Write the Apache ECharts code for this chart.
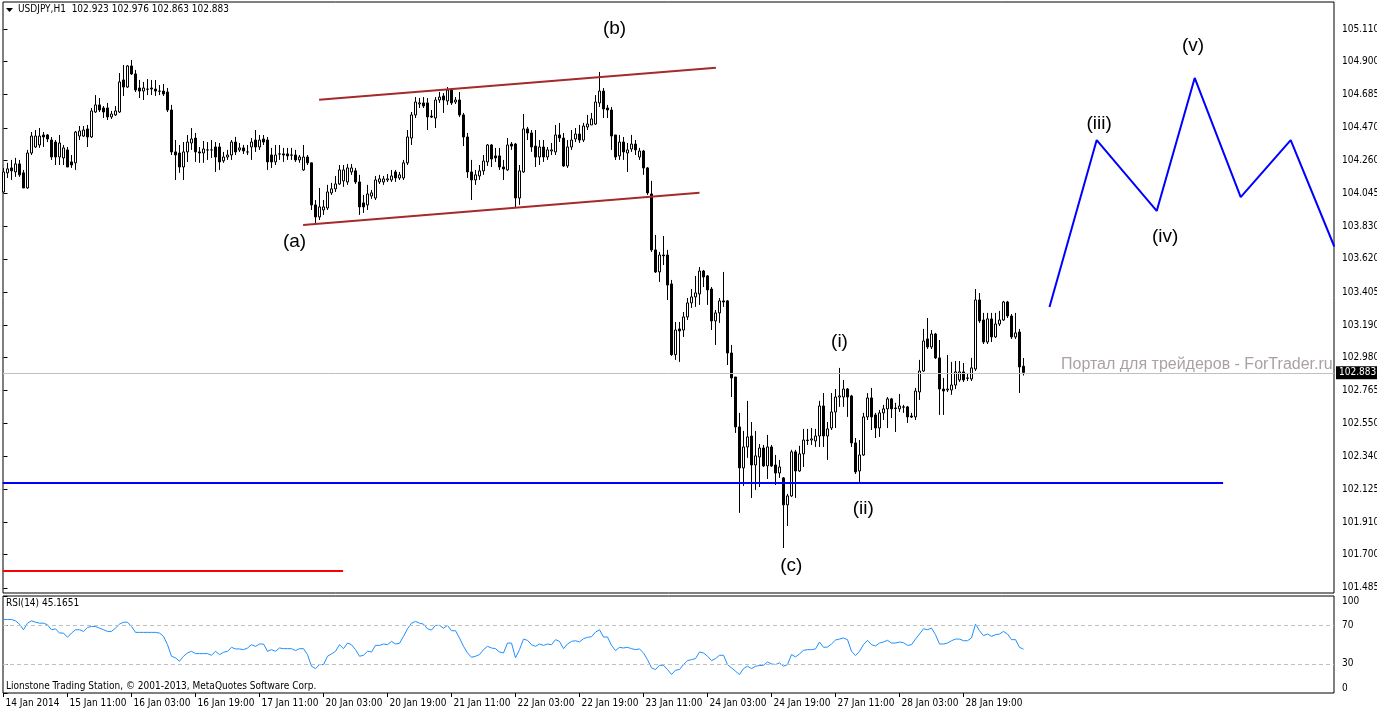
<!DOCTYPE html>
<html>
<head>
<meta charset="utf-8">
<script src="https://cdn.jsdelivr.net/npm/echarts@6/dist/echarts.min.js"></script>
<style>
  html, body { margin: 0; padding: 0; background: #fff; }
  #chart { width: 1377px; height: 712px; }
</style>
</head>
<body>
<div id="chart"></div>
<script>
// USDJPY H1, bar 0 = 14 Jan 2014 19:00
var opens = [
  104.054,104.178,104.210,104.184,104.236,104.178,104.080,104.307,104.346,104.359,
  104.424,104.424,104.391,104.378,104.281,104.275,104.327,104.249,104.243,104.417,
  104.417,104.463,104.411,104.573,104.619,104.599,104.599,104.541,104.554,104.573,
  104.781,104.735,104.872,104.820,104.729,104.709,104.722,104.729,104.722,104.709,
  104.709,104.703,104.586,104.314,104.307,104.216,104.314,104.372,104.404,104.314,
  104.307,104.327,104.327,104.346,104.346,104.256,104.281,104.294,104.378,104.327,
  104.340,104.314,104.346,104.391,104.346,104.398,104.391,104.294,104.249,104.301,
  104.301,104.301,104.294,104.294,104.262,104.197,104.281,104.243,103.970,103.892,
  103.937,103.950,104.048,104.074,104.106,104.126,104.119,104.184,104.191,104.119,
  103.983,103.970,104.028,104.015,104.119,104.119,104.132,104.132,104.184,104.145,
  104.145,104.243,104.404,104.554,104.625,104.632,104.632,104.547,104.534,104.651,
  104.677,104.645,104.716,104.638,104.651,104.554,104.411,104.184,104.132,104.158,
  104.191,104.249,104.359,104.288,104.288,104.216,104.197,104.365,104.365,104.015,
  104.184,104.463,104.437,104.352,104.281,104.346,104.281,104.320,104.314,104.424,
  104.404,104.223,104.346,104.398,104.430,104.391,104.476,104.489,104.495,104.632,
  104.709,104.599,104.586,104.424,104.288,104.378,104.307,104.333,104.365,104.281,
  104.320,104.210,104.041,103.678,103.535,103.645,103.645,103.457,102.998,103.165,
  103.158,103.243,103.334,103.373,103.392,103.541,103.509,103.424,103.217,103.269,
  103.347,103.347,103.009,102.853,102.529,102.263,102.399,102.470,102.282,102.334,
  102.392,102.276,102.399,102.282,102.230,102.198,102.023,102.081,102.367,102.243,
  102.354,102.444,102.444,102.438,102.470,102.665,102.470,102.522,102.626,102.723,
  102.723,102.775,102.730,102.425,102.243,102.347,102.594,102.717,102.607,102.522,
  102.620,102.646,102.711,102.652,102.646,102.659,102.659,102.600,102.594,102.756,
  102.892,103.100,103.048,103.132,102.977,102.775,102.769,102.769,102.801,102.834,
  102.886,102.847,102.840,102.905,103.353,103.223,103.080,103.230,103.113,103.197,
  103.223,103.340,103.249,103.113,103.145,102.923
];
var highs = [
  104.210,104.243,104.262,104.275,104.262,104.197,104.327,104.443,104.456,104.469,
  104.443,104.430,104.411,104.391,104.424,104.359,104.346,104.294,104.450,104.482,
  104.482,104.489,104.599,104.683,104.664,104.612,104.632,104.580,104.612,104.826,
  104.878,104.878,104.911,104.846,104.781,104.768,104.787,104.781,104.781,104.748,
  104.755,104.729,104.619,104.391,104.359,104.378,104.424,104.469,104.437,104.346,
  104.385,104.378,104.391,104.378,104.372,104.314,104.327,104.391,104.411,104.372,
  104.359,104.359,104.404,104.456,104.424,104.424,104.411,104.340,104.359,104.359,
  104.340,104.340,104.340,104.327,104.294,104.359,104.294,104.243,104.002,104.080,
  104.002,104.100,104.113,104.158,104.229,104.229,104.236,104.236,104.210,104.165,
  104.035,104.100,104.067,104.158,104.165,104.158,104.171,104.197,104.197,104.184,
  104.262,104.456,104.573,104.670,104.664,104.670,104.664,104.586,104.670,104.703,
  104.696,104.735,104.729,104.670,104.703,104.567,104.437,104.262,104.197,104.229,
  104.294,104.365,104.365,104.340,104.340,104.262,104.404,104.378,104.372,104.229,
  104.560,104.476,104.456,104.456,104.391,104.391,104.346,104.372,104.489,104.502,
  104.437,104.391,104.456,104.469,104.489,104.502,104.554,104.567,104.683,104.833,
  104.729,104.619,104.606,104.424,104.424,104.411,104.372,104.424,104.391,104.340,
  104.327,104.216,104.126,103.775,103.665,103.768,103.678,103.483,103.210,103.210,
  103.275,103.366,103.424,103.509,103.567,103.548,103.515,103.437,103.288,103.366,
  103.535,103.353,103.061,102.853,102.620,102.503,102.698,102.561,102.503,102.418,
  102.412,102.477,102.412,102.347,102.315,102.204,102.094,102.380,102.380,102.406,
  102.516,102.516,102.522,102.516,102.698,102.749,102.561,102.749,102.775,102.912,
  102.834,102.781,102.737,102.457,102.444,102.620,102.749,102.782,102.620,102.639,
  102.672,102.723,102.717,102.685,102.743,102.672,102.665,102.620,102.782,102.964,
  103.165,103.236,103.158,103.139,103.093,102.847,102.996,102.951,102.957,102.957,
  102.944,102.879,102.977,103.424,103.398,103.269,103.269,103.269,103.269,103.282,
  103.347,103.347,103.262,103.269,103.165,102.976
];
var lows = [
  104.048,104.145,104.132,104.152,104.152,104.080,104.074,104.294,104.340,104.340,
  104.346,104.378,104.262,104.229,104.229,104.229,104.216,104.210,104.197,104.391,
  104.411,104.346,104.404,104.567,104.573,104.534,104.521,104.528,104.547,104.567,
  104.677,104.729,104.813,104.703,104.664,104.651,104.683,104.683,104.677,104.683,
  104.677,104.573,104.294,104.132,104.178,104.132,104.249,104.327,104.249,104.243,
  104.243,104.262,104.275,104.184,104.197,104.243,104.262,104.262,104.294,104.314,
  104.301,104.294,104.262,104.314,104.327,104.359,104.197,104.210,104.229,104.262,
  104.249,104.262,104.262,104.249,104.243,104.191,104.229,103.937,103.853,103.872,
  103.905,103.937,104.035,104.054,104.100,104.087,104.100,104.165,104.106,103.905,
  103.918,103.937,104.009,104.002,104.106,104.100,104.119,104.119,104.119,104.132,
  104.132,104.229,104.359,104.534,104.599,104.599,104.456,104.534,104.469,104.632,
  104.567,104.619,104.619,104.625,104.541,104.352,104.145,104.002,104.100,104.132,
  104.165,104.223,104.216,104.249,104.197,104.132,104.191,104.327,103.950,103.970,
  104.178,104.391,104.314,104.216,104.229,104.249,104.262,104.294,104.294,104.378,
  104.216,104.210,104.327,104.378,104.372,104.378,104.456,104.489,104.489,104.606,
  104.534,104.534,104.327,104.262,104.262,104.262,104.184,104.314,104.294,104.262,
  104.165,104.035,103.665,103.528,103.470,103.580,103.353,102.990,102.964,102.951,
  103.113,103.223,103.301,103.308,103.321,103.437,103.321,103.158,103.061,103.204,
  103.308,102.931,102.723,102.490,101.971,102.146,102.328,102.068,102.120,102.139,
  102.269,102.191,102.269,102.152,102.198,101.743,101.886,102.075,102.068,102.237,
  102.269,102.412,102.412,102.399,102.399,102.399,102.315,102.509,102.522,102.659,
  102.659,102.594,102.399,102.224,102.172,102.341,102.574,102.509,102.457,102.464,
  102.574,102.522,102.587,102.496,102.626,102.620,102.555,102.587,102.574,102.704,
  102.886,103.035,103.035,102.970,102.607,102.607,102.756,102.737,102.775,102.821,
  102.821,102.827,102.827,102.892,103.204,103.067,103.067,103.080,103.106,103.184,
  103.217,103.236,103.100,103.100,102.749,102.863
];
var closes = [
  104.184,104.204,104.191,104.236,104.165,104.080,104.307,104.417,104.417,104.417,
  104.411,104.398,104.281,104.281,104.372,104.340,104.216,104.229,104.443,104.450,
  104.456,104.411,104.580,104.619,104.586,104.573,104.541,104.560,104.580,104.768,
  104.735,104.872,104.820,104.716,104.709,104.729,104.721,104.722,104.709,104.708,
  104.690,104.586,104.314,104.294,104.216,104.314,104.378,104.398,104.314,104.307,
  104.333,104.326,104.327,104.281,104.249,104.281,104.294,104.378,104.314,104.340,
  104.320,104.313,104.378,104.346,104.391,104.378,104.249,104.249,104.294,104.300,
  104.294,104.288,104.293,104.262,104.281,104.281,104.243,103.970,103.892,103.957,
  103.957,104.054,104.074,104.106,104.197,104.197,104.210,104.210,104.119,103.957,
  103.957,104.041,104.048,104.132,104.139,104.139,104.139,104.158,104.145,104.165,
  104.243,104.411,104.554,104.638,104.632,104.612,104.541,104.540,104.651,104.670,
  104.651,104.716,104.632,104.651,104.554,104.411,104.184,104.132,104.165,104.191,
  104.255,104.359,104.268,104.275,104.216,104.203,104.359,104.352,104.015,104.191,
  104.463,104.437,104.346,104.281,104.346,104.281,104.327,104.327,104.424,104.404,
  104.223,104.346,104.391,104.430,104.391,104.482,104.495,104.528,104.638,104.709,
  104.593,104.586,104.417,104.281,104.378,104.314,104.327,104.365,104.327,104.320,
  104.210,104.048,103.678,103.535,103.645,103.639,103.450,102.998,103.158,103.152,
  103.243,103.334,103.373,103.399,103.541,103.502,103.418,103.217,103.269,103.347,
  103.340,103.009,102.847,102.529,102.263,102.399,102.464,102.282,102.341,102.392,
  102.276,102.399,102.276,102.230,102.269,102.023,102.081,102.367,102.243,102.354,
  102.444,102.441,102.451,102.470,102.665,102.470,102.516,102.626,102.723,102.730,
  102.775,102.723,102.425,102.237,102.347,102.594,102.717,102.594,102.522,102.620,
  102.646,102.711,102.646,102.648,102.665,102.657,102.594,102.593,102.762,102.892,
  103.087,103.048,103.132,102.977,102.775,102.762,102.775,102.801,102.886,102.886,
  102.834,102.845,102.912,103.353,103.217,103.080,103.230,103.113,103.197,103.223,
  103.340,103.249,103.113,103.139,102.918,102.883
];
var rsi = [
  75.8,75.8,75.8,74.4,71,65.2,72,74.4,73,72,
  72,70.3,65.2,66.2,61.8,61.8,57.4,61.8,65.2,65.2,
  63.5,67.6,68.6,68.6,66.9,65.2,63.5,63.5,66.9,71,
  73,73,68.6,62.5,62.5,62.5,62.5,62.5,62.5,61.8,
  58.4,49.8,37.9,36.2,32.7,37.9,41.3,43,40.6,40.6,
  40.6,40.6,38.9,43,39.6,42,43,47.1,45.4,45.4,
  44.7,46.4,49.8,48.1,50.5,50.5,43,44.7,43,46.4,
  45.7,45.7,45.7,43.7,45.7,45.7,39.6,27.6,25.2,29.3,
  29.3,37.9,40.3,43,49.8,45.7,51.5,49.8,44.7,37.9,
  38.9,43,42.3,49.1,49.1,50.5,49.8,53.2,50.5,51.2,
  58.4,66.2,72,73.8,72,71,66.2,64.9,69.7,69.7,
  66.9,69.7,64.2,64.2,56.7,48.1,41.3,36.8,37.9,39.6,
  44.7,48.1,46.4,45.7,42.3,41.3,51.5,51.5,36.2,44.7,
  55.6,54.3,49.8,48.1,50.5,49.1,50.5,49.8,55,53.2,
  45.7,50.5,53.2,53.9,52.6,56,57.4,58,62.8,65.2,
  57.7,57.7,49.1,43.7,47.1,46.4,47.1,45.7,44.7,45.4,
  41.3,34.4,25.9,24.2,28.6,28.6,24.2,19.1,23.5,24.2,
  29.3,33.4,34.4,35.5,42.3,41.3,37.9,33.4,35.5,38.9,
  38.9,29.3,25.9,22.5,19.1,25.2,27.6,25.2,27.6,28.3,
  28.6,32,30,29.3,31,27.6,29.3,39.6,37.2,40.3,
  44,44.7,44.7,45.4,52.6,47.1,47.4,50.5,54.6,55.6,
  56.7,55,43,38.6,43,49.8,54.3,49.8,48.5,51.5,
  52.6,54.3,51.5,51.5,52.6,51.9,49.1,49.8,55.6,60.8,
  66.2,65.2,66.9,60.1,50.5,50.5,51.5,53.9,55.6,55.6,
  53.9,53.9,56.7,71,64.2,59.1,60.8,58.4,60.1,60.8,
  63.5,60.8,55,55,47.1,45.17
];

// tick labels
var timeLabels = ['14 Jan 2014', '15 Jan 11:00', '16 Jan 03:00', '16 Jan 19:00', '17 Jan 11:00',
  '20 Jan 03:00', '20 Jan 19:00', '21 Jan 11:00', '22 Jan 03:00', '22 Jan 19:00', '23 Jan 11:00',
  '24 Jan 03:00', '24 Jan 19:00', '27 Jan 11:00', '28 Jan 03:00', '28 Jan 19:00'];
var priceTicks = [101.485, 101.700, 101.910, 102.125, 102.340, 102.550, 102.765, 102.980, 103.190,
  103.405, 103.620, 103.830, 104.045, 104.260, 104.470, 104.685, 104.900, 105.110];
var rsiTicks = [0, 30, 70, 100];
var rsiLevels = [70, 30];

// drawn objects (bar index, price)
var channelTop = [[78.9, 104.653], [178.1, 104.861]];
var channelBottom = [[74.9, 103.840], [174.0, 104.049]];
var supportLine = [[-0.2, 102.165], [304.9, 102.165]];
var redLine = [[-0.2, 101.594], [84.9, 101.594]];
var waveProjection = [[261.5, 103.308], [273.3, 104.391], [288.3, 103.931], [297.8, 104.794],
  [309.3, 104.021], [321.8, 104.391], [332.7, 103.700]];
var waveLabels = [[72.75, 103.729, '(a)'], [152.75, 105.116, '(b)'], [196.95, 101.630, '(c)'],
  [209, 103.079, '(i)'], [214.95, 101.998, '(ii)'], [273.9, 104.495, '(iii)'],
  [290.4, 103.762, '(iv)'], [297.4, 105.001, '(v)']];
var lastPrice = 102.883;

var FONT = "'DejaVu Sans Condensed', 'DejaVu Sans', sans-serif";
var LABEL_FONT = "'Liberation Sans', Arial, sans-serif";

var candles = [];
for (var i = 0; i < opens.length; i++) {
  candles.push([i, opens[i], closes[i], lows[i], highs[i]]);
}
var rsiData = rsi.map(function (v, i) { return [i, v]; });
var timeTickIdx = timeLabels.map(function (t, i) { return i * 16; });

function straight(data, color) {
  return {
    type: 'line', xAxisIndex: 0, yAxisIndex: 0, data: data, symbol: 'none', silent: true,
    lineStyle: { color: color, width: 2 }, z: 3
  };
}

var myChart = echarts.init(document.getElementById('chart'));
var option = {
  animation: false,
  backgroundColor: '#fff',
  grid: [
    { left: 3, right: 43, top: 2, height: 591, show: true, borderColor: '#000', borderWidth: 1, outerBoundsMode: 'none' },
    { left: 3, right: 43, top: 596, height: 97, show: true, borderColor: '#000', borderWidth: 1, outerBoundsMode: 'none' }
  ],
  xAxis: [
    { type: 'value', gridIndex: 0, min: -0.125, max: 332.625, show: false },
    {
      type: 'value', gridIndex: 1, min: -0.125, max: 332.625,
      axisLine: { show: false },
      splitLine: { show: false },
      axisTick: { show: true, customValues: timeTickIdx, length: 4, lineStyle: { color: '#000' } },
      axisLabel: {
        customValues: timeTickIdx, align: 'left', margin: 5, padding: [0, 0, 0, 2],
        color: '#000', fontSize: 10, fontFamily: FONT,
        formatter: function (v) { return timeLabels[Math.round(v / 16)] || ''; }
      }
    }
  ],
  yAxis: [
    {
      type: 'value', gridIndex: 0, position: 'right', min: 101.451, max: 105.287,
      axisLine: { show: false },
      splitLine: { show: false },
      axisTick: { show: true, customValues: priceTicks, length: 4, lineStyle: { color: '#000' } },
      axisLabel: {
        customValues: priceTicks, color: '#000', fontSize: 10, fontFamily: FONT, margin: 8,
        formatter: function (v) { return v.toFixed(3); }
      }
    },
    {
      type: 'value', gridIndex: 1, position: 'right', min: 0, max: 100,
      axisLine: { show: false },
      splitLine: { show: false },
      axisTick: { show: true, customValues: rsiTicks, length: 4, lineStyle: { color: '#000' } },
      axisLabel: {
        customValues: rsiTicks, color: '#000', fontSize: 10, fontFamily: FONT, margin: 8,
        verticalAlignMinLabel: 'bottom', verticalAlignMaxLabel: 'top'
      }
    }
  ],
  graphic: [
    { type: 'polygon', shape: { points: [[6, 8], [13, 8], [9.5, 12]] }, style: { fill: '#000' } },
    { type: 'text', left: 18, top: 4, style: { text: 'USDJPY,H1  102.923 102.976 102.863 102.883', fill: '#000', font: '10px ' + FONT } },
    { type: 'text', left: 6, top: 598, style: { text: 'RSI(14) 45.1651', fill: '#000', font: '10px ' + FONT } },
    { type: 'text', left: 6, top: 681, style: { text: 'Lionstone Trading Station, \u00a9 2001-2013, MetaQuotes Software Corp.', fill: '#000', font: '10px ' + FONT } },
    { type: 'text', left: 1061, top: 357, z: 1, style: { text: 'Портал для трейдеров - ForTrader.ru', fill: '#aaa2a2', font: '16px ' + LABEL_FONT } }
  ],
  series: [
    {
      type: 'candlestick', xAxisIndex: 0, yAxisIndex: 0, data: candles, barWidth: 3,
      silent: true,
      itemStyle: {
        color: '#fff', color0: '#000', borderColor: '#000', borderColor0: '#000',
        borderColorDoji: '#000', borderWidth: 1
      },
      markLine: {
        silent: true, symbol: 'none',
        lineStyle: { color: '#c0c0c0', type: 'solid', width: 1 },
        label: {
          show: true, position: 'end', distance: 2, formatter: lastPrice.toFixed(3),
          color: '#fff', backgroundColor: '#000', padding: [2, 3, 1, 3],
          fontSize: 10, fontFamily: FONT
        },
        data: [{ yAxis: lastPrice }]
      },
      z: 2
    },
    straight(channelTop, '#a52a2a'),
    straight(channelBottom, '#a52a2a'),
    straight(supportLine, '#0000ff'),
    straight(redLine, '#ff0000'),
    straight(waveProjection, '#0000ff'),
    {
      type: 'scatter', xAxisIndex: 0, yAxisIndex: 0, data: waveLabels, symbol: 'circle', symbolSize: 1,
      itemStyle: { color: '#fff', opacity: 1 }, silent: true,
      label: {
        show: true, position: 'inside', color: '#000', opacity: 1, textBorderWidth: 0,
        fontSize: 19, fontFamily: LABEL_FONT,
        formatter: function (p) { return p.value[2]; }
      },
      z: 4
    },
    {
      type: 'line', xAxisIndex: 1, yAxisIndex: 1, data: rsiData, symbol: 'none', silent: true,
      lineStyle: { color: '#1e90ff', width: 1 },
      markLine: {
        silent: true, symbol: 'none', label: { show: false },
        lineStyle: { color: '#c0c0c0', type: [4, 3], width: 1 },
        data: rsiLevels.map(function (v) { return { yAxis: v }; })
      }
    }
  ]
};
myChart.setOption(option);
</script>
</body>
</html>
